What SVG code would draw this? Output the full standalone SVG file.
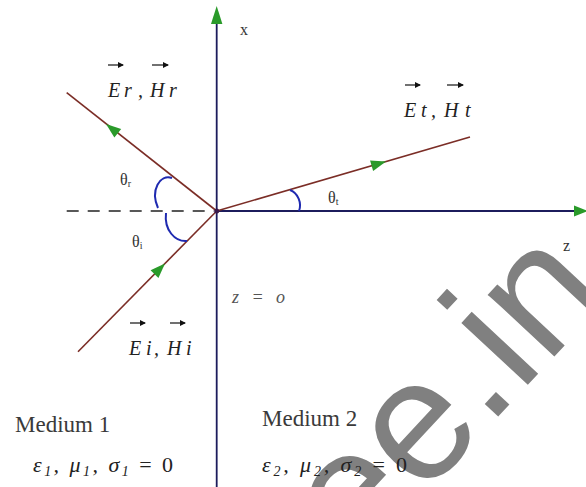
<svg xmlns="http://www.w3.org/2000/svg" width="586" height="487" viewBox="0 0 586 487">
<defs>
<style>
.axis{stroke:#1c1c5c;stroke-width:1.8;fill:none}
.ray{stroke:#7b2d26;stroke-width:1.6;fill:none}
.arc{stroke:#1f2ab0;stroke-width:2;fill:none}
.dash{stroke:#222;stroke-width:1.5;stroke-dasharray:12 9;fill:none}
.head{fill:#2a9a2a}
.vec{stroke:#111;stroke-width:1.2}
.vl{font-family:"Liberation Serif",serif;font-style:italic;font-size:20px;fill:#222}
.lab{font-family:"Liberation Serif",serif;font-size:16px;fill:#333}
.med{font-family:"Liberation Serif",serif;font-size:23px;fill:#3a3a3a}
.eq{font-family:"Liberation Serif",serif;font-style:italic;font-size:22px;fill:#222}
</style>
<marker id="va" viewBox="0 0 6 6" refX="5" refY="3" markerWidth="6" markerHeight="6" markerUnits="userSpaceOnUse" orient="auto">
<path d="M0,0 L6,3 L0,6 z" fill="#111"/>
</marker>
</defs>
<rect width="586" height="487" fill="#fff"/>

<g id="watermark">
<text x="357" y="568" transform="rotate(-47 357 568)" font-family="Liberation Sans, Arial, sans-serif" font-size="172" fill="#808080">ee.in</text>
</g>

<g id="axes">
<line class="axis" x1="216.7" y1="22" x2="216.7" y2="487"/>
<polygon class="head" points="216.7,6 211,24 222.4,24"/>
<line class="axis" x1="216.7" y1="211" x2="578" y2="211"/>
<polygon class="head" points="588,211 574,205.5 574,216.5"/>
<line class="dash" x1="66.7" y1="211" x2="214" y2="211"/>
</g>

<g id="connectors">
<line id="reflected" class="ray" x1="216.7" y1="211" x2="66.7" y2="92.7"/>
<line id="incident" class="ray" x1="78" y1="351.7" x2="216.7" y2="211"/>
<line id="transmitted" class="ray" x1="216.7" y1="211" x2="470" y2="137"/>
<polygon class="head" points="0,0 -15,-5.5 -15,5.5" transform="translate(106,124) rotate(-141.8)"/>
<polygon class="head" points="0,0 -15,-5.5 -15,5.5" transform="translate(165,263.5) rotate(-45.6)"/>
<polygon class="head" points="0,0 -15,-5.5 -15,5.5" transform="translate(386,161.6) rotate(-16.3)"/>
<circle cx="216.7" cy="211" r="2.5" fill="#3a1a4a"/>
</g>

<g id="angles">
<path class="arc" d="M172,178 C160,174 150,190 158,208"/>
<path class="arc" d="M166,213 C164,230 175,242 187,241"/>
<path class="arc" d="M290,190 C298,193 302,203 299,211"/>
<text class="lab" x="120" y="185">θ<tspan font-size="10" dy="2">r</tspan></text>
<text class="lab" x="132" y="247">θ<tspan font-size="10" dy="2">i</tspan></text>
<text class="lab" x="328" y="203">θ<tspan font-size="10" dy="2">t</tspan></text>
</g>

<g id="axis-labels">
<text class="lab" x="240" y="35">x</text>
<text class="lab" x="563" y="251">z</text>
<text x="232" y="303" font-family="Liberation Serif, serif" font-style="italic" font-size="18" fill="#555" textLength="53" lengthAdjust="spacing">z = o</text>
</g>

<g id="label-reflected">
<text class="vl" y="97"><tspan x="108">E</tspan><tspan x="124">r</tspan><tspan x="138">,</tspan><tspan x="150">H</tspan><tspan x="169">r</tspan></text>
<line class="vec" x1="108" y1="65" x2="123" y2="65" marker-end="url(#va)"/>
<line class="vec" x1="152" y1="65" x2="168" y2="65" marker-end="url(#va)"/>
</g>

<g id="label-transmitted">
<text class="vl" y="117"><tspan x="404">E</tspan><tspan x="421">t</tspan><tspan x="431">,</tspan><tspan x="444">H</tspan><tspan x="465">t</tspan></text>
<line class="vec" x1="405" y1="85" x2="420" y2="85" marker-end="url(#va)"/>
<line class="vec" x1="447" y1="85" x2="463" y2="85" marker-end="url(#va)"/>
</g>

<g id="label-incident">
<text class="vl" y="355"><tspan x="129">E</tspan><tspan x="146">i</tspan><tspan x="154">,</tspan><tspan x="167">H</tspan><tspan x="186">i</tspan></text>
<line class="vec" x1="130" y1="323" x2="145" y2="323" marker-end="url(#va)"/>
<line class="vec" x1="170" y1="323" x2="185" y2="323" marker-end="url(#va)"/>
</g>

<g id="medium1">
<text class="med" x="15" y="432">Medium 1</text>
<text class="eq" x="33" y="472" textLength="140" lengthAdjust="spacing">ε<tspan font-size="14" dy="4">1</tspan><tspan dy="-4">, μ</tspan><tspan font-size="14" dy="4">1</tspan><tspan dy="-4">, σ</tspan><tspan font-size="14" dy="4">1</tspan><tspan dy="-4" font-style="normal"> = 0</tspan></text>
</g>

<g id="medium2">
<text class="med" x="262" y="426">Medium 2</text>
<text class="eq" x="262" y="472" textLength="145" lengthAdjust="spacing">ε<tspan font-size="14" dy="4">2</tspan><tspan dy="-4">, μ</tspan><tspan font-size="14" dy="4">2</tspan><tspan dy="-4">, σ</tspan><tspan font-size="14" dy="4">2</tspan><tspan dy="-4" font-style="normal"> = 0</tspan></text>
</g>
</svg>
